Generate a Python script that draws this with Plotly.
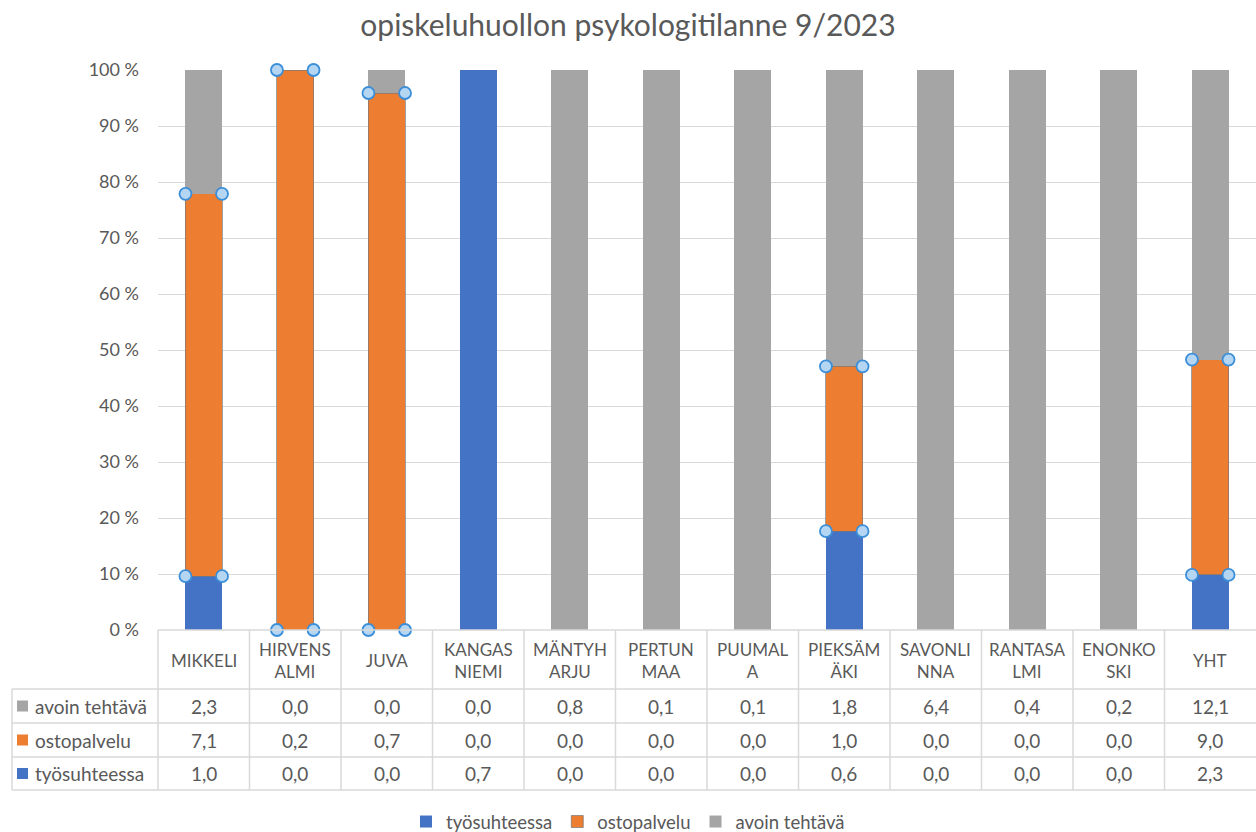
import plotly.graph_objects as go

# ---------------- data ----------------
categories = ["MIKKELI", "HIRVENSALMI", "JUVA", "KANGASNIEMI", "MÄNTYHARJU", "PERTUNMAA",
              "PUUMALA", "PIEKSÄMÄKI", "SAVONLINNA", "RANTASALMI", "ENONKOSKI", "YHT"]
header_labels = ["MIKKELI", "HIRVENS<br>ALMI", "JUVA", "KANGAS<br>NIEMI", "MÄNTYH<br>ARJU", "PERTUN<br>MAA",
                 "PUUMAL<br>A", "PIEKSÄM<br>ÄKI", "SAVONLI<br>NNA", "RANTASA<br>LMI", "ENONKO<br>SKI", "YHT"]
tyosuhteessa = [1.0, 0.0, 0.0, 0.7, 0.0, 0.0, 0.0, 0.6, 0.0, 0.0, 0.0, 2.3]
ostopalvelu = [7.1, 0.2, 0.7, 0.0, 0.0, 0.0, 0.0, 1.0, 0.0, 0.0, 0.0, 9.0]
avoin_tehtava = [2.3, 0.0, 0.03, 0.0, 0.8, 0.1, 0.1, 1.8, 6.4, 0.4, 0.2, 12.1]
series_names = ["työsuhteessa", "ostopalvelu", "avoin tehtävä"]
y_ticks = [0, 10, 20, 30, 40, 50, 60, 70, 80, 90, 100]
y_ticktext = ["0 %", "10 %", "20 %", "30 %", "40 %", "50 %", "60 %", "70 %", "80 %", "90 %", "100 %"]
title_text = "opiskeluhuollon psykologitilanne 9/2023"

# ---------------- style ----------------
C_BLUE, C_ORANGE, C_GREY = "#4472c4", "#ed7d31", "#a5a5a5"
TXT = "#595959"
LINE = "#d9d9d9"
FONT = "Lato"
W, H = 1256, 832
ML, MR, MT, MB = 158, 0, 70, 202
PW, PH = W - ML - MR, H - MT - MB
BARGAP = 0.6


def py(p):  # pixel y -> paper y
    return (H - MB - p) / PH


def px(p):  # pixel x -> paper x
    return (p - ML) / PW


series = [tyosuhteessa, ostopalvelu, avoin_tehtava]
colors = [C_BLUE, C_ORANGE, C_GREY]

fig = go.Figure()
for name, vals, col in zip(series_names, series, colors):
    line = dict(width=0)
    if name == "ostopalvelu":
        line = dict(width=[1 if v > 0 else 0 for v in vals], color="rgba(120,120,120,0.7)")
    fig.add_trace(go.Bar(x=categories, y=vals, name=name, marker=dict(color=col, line=line),
                         hoverinfo="x+y+name"))

# selection handles on the orange series (corners of each non-empty orange bar)
hx, hy = [], []
half = (1 - BARGAP) / 2
for i, (b, o, a) in enumerate(zip(tyosuhteessa, ostopalvelu, avoin_tehtava)):
    tot = b + o + a
    if o > 0 and tot > 0:
        lo, hi = 100 * b / tot, 100 * (b + o) / tot
        for yy in (lo, hi):
            for xx in (i - half, i + half):
                hx.append(xx)
                hy.append(yy)
fig.add_trace(go.Scatter(x=hx, y=hy, xaxis="x2", mode="markers", showlegend=False, hoverinfo="skip",
                         marker=dict(size=12, color="#b4d6f3", line=dict(color="#3b8ed8", width=1.8)),
                         cliponaxis=False))

n = len(categories)
shapes = []
ann = []
# table geometry (pixels)
top_px = H - MB
hdr_bot = 689
row_lines = [689, 723, 757, 790]
left_px = 12

# horizontal lines
shapes.append(dict(type="line", xref="paper", yref="paper", x0=0, x1=1, y0=py(top_px), y1=py(top_px),
                   line=dict(color=LINE, width=1.5)))
for r in row_lines:
    shapes.append(dict(type="line", xref="paper", yref="paper", x0=px(left_px), x1=1, y0=py(r), y1=py(r),
                       line=dict(color=LINE, width=1.5)))
# vertical lines
shapes.append(dict(type="line", xref="paper", yref="paper", x0=px(left_px), x1=px(left_px),
                   y0=py(hdr_bot), y1=py(row_lines[-1]), line=dict(color=LINE, width=1.5)))
for k in range(n):
    xk = k / n
    shapes.append(dict(type="line", xref="paper", yref="paper", x0=xk, x1=xk,
                       y0=py(top_px), y1=py(row_lines[-1]), line=dict(color=LINE, width=1.5)))

# header labels
for k, lab in enumerate(header_labels):
    ann.append(dict(xref="paper", yref="paper", x=(k + 0.5) / n, y=py((top_px + hdr_bot) / 2 + 1),
                    text=lab, showarrow=False, xanchor="center", yanchor="middle",
                    font=dict(family=FONT, size=17, color=TXT)))

# rows: avoin, ostopalvelu, työsuhteessa (top to bottom)
row_order = [(series_names[2], avoin_tehtava, C_GREY),
             (series_names[1], ostopalvelu, C_ORANGE),
             (series_names[0], tyosuhteessa, C_BLUE)]
for r, (name, vals, col) in enumerate(row_order):
    yc = (row_lines[r] + row_lines[r + 1]) / 2
    shapes.append(dict(type="rect", xref="paper", yref="paper", x0=px(17), x1=px(28),
                       y0=py(yc - 5.5), y1=py(yc + 5.5), fillcolor=col, line=dict(width=0)))
    ann.append(dict(xref="paper", yref="paper", x=px(33), y=py(yc), text=name, showarrow=False,
                    xanchor="left", yanchor="middle", font=dict(family=FONT, size=19, color=TXT)))
    for k, v in enumerate(vals):
        ann.append(dict(xref="paper", yref="paper", x=(k + 0.5) / n, y=py(yc),
                        text=f"{v:.1f}".replace(".", ","), showarrow=False,
                        xanchor="center", yanchor="middle", font=dict(family=FONT, size=19, color=TXT)))

fig.update_layout(
    width=W, height=H,
    margin=dict(l=ML, r=MR, t=MT, b=MB, pad=0, autoexpand=False),
    paper_bgcolor="white", plot_bgcolor="white",
    barmode="stack", barnorm="percent", bargap=BARGAP,
    title=dict(text=title_text, x=0.5, xref="container", xanchor="center", y=1 - 25 / H, yref="container",
               yanchor="middle", font=dict(family=FONT, size=30, color=TXT)),
    font=dict(family=FONT, color=TXT),
    xaxis=dict(showticklabels=False, showgrid=False, showline=False, ticks="", zeroline=False,
               range=[-0.5, n - 0.5]),
    xaxis2=dict(overlaying="x", range=[-0.5, n - 0.5], visible=False),
    yaxis=dict(range=[0, 100], tickvals=y_ticks, ticktext=y_ticktext, showgrid=True, gridcolor=LINE,
               gridwidth=1, zeroline=False, showline=False, ticks="", ticklabelstandoff=18,
               tickfont=dict(family=FONT, size=18, color=TXT)),
    legend=dict(orientation="h", x=0.5, xref="container", xanchor="center", y=1 - 822 / H,
                yref="container", yanchor="middle", itemwidth=30,
                traceorder="normal", font=dict(family=FONT, size=18.5, color=TXT), bgcolor="rgba(0,0,0,0)"),
    shapes=shapes, annotations=ann,
    showlegend=True,
)

fig.write_html("out.html", config={"displayModeBar": False},
               post_script="document.body.style.margin='0';document.body.style.overflow='hidden';")
